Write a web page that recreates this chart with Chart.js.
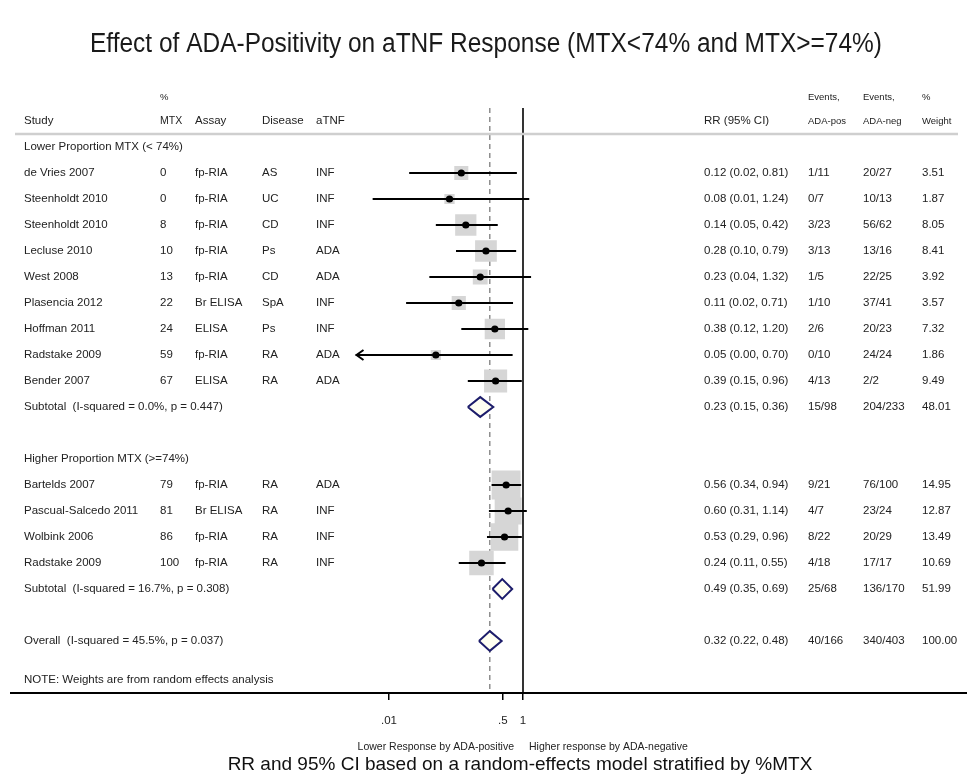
<!DOCTYPE html>
<html>
<head>
<meta charset="utf-8">
<script src="https://cdn.jsdelivr.net/npm/chart.js@4.4.1/dist/chart.umd.min.js"></script>
<style>
  html, body { margin: 0; padding: 0; background: #fff; }
  canvas { display: block; }
</style>
</head>
<body>
<canvas id="forestChart" width="967" height="776"></canvas>
<script>
// studies, in the order they are plotted
const studies = ['de Vries 2007', 'Steenholdt 2010', 'Steenholdt 2010', 'Lecluse 2010', 'West 2008', 'Plasencia 2012', 'Hoffman 2011', 'Radstake 2009', 'Bender 2007', 'Bartelds 2007', 'Pascual-Salcedo 2011', 'Wolbink 2006', 'Radstake 2009'];
const studyGroup = [0, 0, 0, 0, 0, 0, 0, 0, 0, 1, 1, 1, 1];
const mtxPct = ['0', '0', '8', '10', '13', '22', '24', '59', '67', '79', '81', '86', '100'];
const assays = ['fp-RIA', 'fp-RIA', 'fp-RIA', 'fp-RIA', 'fp-RIA', 'Br ELISA', 'ELISA', 'fp-RIA', 'ELISA', 'fp-RIA', 'Br ELISA', 'fp-RIA', 'fp-RIA'];
const diseases = ['AS', 'UC', 'CD', 'Ps', 'CD', 'SpA', 'Ps', 'RA', 'RA', 'RA', 'RA', 'RA', 'RA'];
const antiTnf = ['INF', 'INF', 'INF', 'ADA', 'ADA', 'INF', 'INF', 'ADA', 'ADA', 'ADA', 'INF', 'INF', 'INF'];
const rr = [0.12, 0.08, 0.14, 0.28, 0.23, 0.11, 0.38, 0.05, 0.39, 0.56, 0.60, 0.53, 0.24];
const ciLow = [0.02, 0.0057, 0.05, 0.10, 0.04, 0.018, 0.12, 0.00, 0.15, 0.34, 0.31, 0.29, 0.11];
const ciHigh = [0.81, 1.24, 0.42, 0.79, 1.32, 0.71, 1.20, 0.70, 0.96, 0.94, 1.14, 0.96, 0.55];
const adaPos = ['1/11', '0/7', '3/23', '3/13', '1/5', '1/10', '2/6', '0/10', '4/13', '9/21', '4/7', '8/22', '4/18'];
const adaNeg = ['20/27', '10/13', '56/62', '13/16', '22/25', '37/41', '20/23', '24/24', '2/2', '76/100', '23/24', '20/29', '17/17'];
const weights = [3.51, 1.87, 8.05, 8.41, 3.92, 3.57, 7.32, 1.86, 9.49, 14.95, 12.87, 13.49, 10.69];

// subgroups
const groupLabels = ['Lower Proportion MTX (< 74%)', 'Higher Proportion MTX (>=74%)'];
const subLabels = ['Subtotal  (I-squared = 0.0%, p = 0.447)', 'Subtotal  (I-squared = 16.7%, p = 0.308)'];
const subRR = [0.23, 0.49];
const subLow = [0.15, 0.35];
const subHigh = [0.36, 0.69];
const subPos = ['15/98', '25/68'];
const subNeg = ['204/233', '136/170'];
const subWeight = ['48.01', '51.99'];

// overall pooled estimate
const overallLabel = 'Overall  (I-squared = 45.5%, p = 0.037)';
const overallRR = 0.32;
const overallLow = 0.22;
const overallHigh = 0.48;
const overallPos = '40/166';
const overallNeg = '340/403';
const overallWeight = '100.00';

// x axis
const xTickValues = [0.01, 0.5, 1];
const xTickLabels = ['.01', '.5', '1'];

const X_MIN = Math.pow(10, -2.5);
const X_MAX = 10;
const FONT = "'Liberation Sans', Arial, sans-serif";

// work out which row each line of the table goes on
const studyRow = [];
const groupRow = [];
const subRow = [];
let k = 0;
groupLabels.forEach((g, gi) => {
    groupRow.push(k++);
    studies.forEach((s, i) => {
        if (studyGroup[i] === gi) studyRow[i] = k++;
    });
    subRow.push(k++);
    k++; // blank line between groups
});
const overallRow = k;
const noteRow = k + 1.5;

const ciText = (est, lo, hi) => `${est.toFixed(2)} (${lo.toFixed(2)}, ${hi.toFixed(2)})`;

const diamond = (est, lo, hi, row) => [
    { x: lo, y: row }, { x: est, y: row - 0.38 }, { x: hi, y: row }, { x: est, y: row + 0.38 }, { x: lo, y: row }
];

// first dataset ends up on top
const datasets = [];
datasets.push({
    data: studies.map((s, i) => ({ x: rr[i], y: studyRow[i] })),
    pointRadius: 3.6,
    pointBackgroundColor: '#000',
    pointBorderWidth: 0
});
subRR.forEach((est, i) => {
    datasets.push({
        data: diamond(est, subLow[i], subHigh[i], subRow[i]),
        showLine: true, fill: 'shape', pointRadius: 0,
        borderColor: '#1d1d6b', borderWidth: 2, backgroundColor: '#fffff2'
    });
});
datasets.push({
    data: diamond(overallRR, overallLow, overallHigh, overallRow),
    showLine: true, fill: 'shape', pointRadius: 0,
    borderColor: '#1d1d6b', borderWidth: 2, backgroundColor: '#fffff2'
});
studies.forEach((s, i) => {
    datasets.push({
        data: [
            { x: Math.max(ciLow[i], X_MIN), y: studyRow[i] },
            { x: Math.min(ciHigh[i], X_MAX), y: studyRow[i] }
        ],
        showLine: true, pointRadius: 0,
        borderColor: '#000', borderWidth: 2
    });
});
datasets.push({
    data: studies.map((s, i) => ({ x: rr[i], y: studyRow[i] })),
    pointStyle: 'rect',
    pointRadius: weights.map(w => 5.3 * Math.sqrt(w)),
    pointBackgroundColor: '#d6d6d6',
    pointBorderWidth: 0
});
// overall estimate line and line of no effect
datasets.push({
    data: [{ x: overallRR, y: -1.5 }, { x: overallRR, y: 21 }],
    showLine: true, pointRadius: 0,
    borderColor: '#555', borderWidth: 1, borderDash: [5, 4]
});
datasets.push({
    data: [{ x: 1, y: -1.5 }, { x: 1, y: 21 }],
    showLine: true, pointRadius: 0,
    borderColor: '#000', borderWidth: 1.6
});

const tablePlugin = {
    id: 'forestTable',
    afterDatasetsDraw(chart) {
        // arrow where a CI runs off the left of the axis
        const { ctx, scales: { x, y } } = chart;
        ctx.save();
        ctx.strokeStyle = '#000';
        ctx.lineWidth = 2;
        studies.forEach((s, i) => {
            if (ciLow[i] >= X_MIN) return;
            const px = x.getPixelForValue(X_MIN) + 1;
            const py = y.getPixelForValue(studyRow[i]);
            ctx.beginPath();
            ctx.moveTo(px + 7, py - 5);
            ctx.lineTo(px, py);
            ctx.lineTo(px + 7, py + 5);
            ctx.stroke();
        });
        ctx.restore();
    },
    afterDraw(chart) {
        const { ctx, scales: { x, y }, chartArea } = chart;
        const W = chart.width;
        ctx.save();

        // title, slightly condensed like the original
        ctx.fillStyle = '#1a1a1a';
        ctx.textBaseline = 'middle';
        ctx.textAlign = 'center';
        const title = 'Effect of ADA-Positivity on aTNF Response (MTX<74% and MTX>=74%)';
        ctx.font = `27px ${FONT}`;
        const tw = ctx.measureText(title).width;
        ctx.save();
        ctx.translate(486, 45);
        ctx.scale(792 / tw, 1);
        ctx.fillText(title, 0, 0);
        ctx.restore();

        // lines across the whole figure
        ctx.strokeStyle = '#cfcfcf';
        ctx.lineWidth = 2.5;
        ctx.beginPath();
        ctx.moveTo(15, y.getPixelForValue(-0.5));
        ctx.lineTo(958, y.getPixelForValue(-0.5));
        ctx.stroke();
        ctx.strokeStyle = '#000';
        ctx.lineWidth = 2;
        ctx.beginPath();
        ctx.moveTo(10, chartArea.bottom);
        ctx.lineTo(W, chartArea.bottom);
        ctx.stroke();

        const cols = { study: 24, mtx: 160, assay: 195, disease: 262, atnf: 316, ci: 704, pos: 808, neg: 863, wt: 922 };
        const small = `9.5px ${FONT}`;
        const normal = `11.5px ${FONT}`;
        const put = (txt, cx, row, font) => {
            ctx.font = font || normal;
            ctx.fillText(txt, cx, y.getPixelForValue(row));
        };
        ctx.fillStyle = '#222';
        ctx.textAlign = 'left';

        // column headers
        put('%', cols.mtx, -1.92, small);
        put('Events,', cols.pos, -1.92, small);
        put('Events,', cols.neg, -1.92, small);
        put('%', cols.wt, -1.92, small);
        put('Study', cols.study, -1);
        put('MTX', cols.mtx, -1, `10.5px ${FONT}`);
        put('Assay', cols.assay, -1);
        put('Disease', cols.disease, -1);
        put('aTNF', cols.atnf, -1);
        put('RR (95% CI)', cols.ci, -1);
        put('ADA-pos', cols.pos, -1, small);
        put('ADA-neg', cols.neg, -1, small);
        put('Weight', cols.wt, -1, small);

        groupLabels.forEach((g, gi) => {
            put(g, cols.study, groupRow[gi]);
            put(subLabels[gi], cols.study, subRow[gi]);
            put(ciText(subRR[gi], subLow[gi], subHigh[gi]), cols.ci, subRow[gi]);
            put(subPos[gi], cols.pos, subRow[gi]);
            put(subNeg[gi], cols.neg, subRow[gi]);
            put(subWeight[gi], cols.wt, subRow[gi]);
        });
        studies.forEach((s, i) => {
            const r = studyRow[i];
            put(s, cols.study, r);
            put(mtxPct[i], cols.mtx, r);
            put(assays[i], cols.assay, r);
            put(diseases[i], cols.disease, r);
            put(antiTnf[i], cols.atnf, r);
            put(ciText(rr[i], ciLow[i], ciHigh[i]), cols.ci, r);
            put(adaPos[i], cols.pos, r);
            put(adaNeg[i], cols.neg, r);
            put(weights[i].toFixed(2), cols.wt, r);
        });
        put(overallLabel, cols.study, overallRow);
        put(ciText(overallRR, overallLow, overallHigh), cols.ci, overallRow);
        put(overallPos, cols.pos, overallRow);
        put(overallNeg, cols.neg, overallRow);
        put(overallWeight, cols.wt, overallRow);
        put('NOTE: Weights are from random effects analysis', cols.study, noteRow);

        // favours labels and axis title
        const p1 = x.getPixelForValue(1);
        ctx.font = `10.5px ${FONT}`;
        ctx.textAlign = 'right';
        ctx.fillText('Lower Response by ADA-positive', p1 - 9, 747);
        ctx.textAlign = 'left';
        ctx.fillText('Higher response by ADA-negative', p1 + 6, 747);
        ctx.font = `19px ${FONT}`;
        ctx.textAlign = 'center';
        ctx.fillStyle = '#111';
        ctx.fillText('RR and 95% CI based on a random-effects model stratified by %MTX', 520, 765);
        ctx.restore();
    }
};

new Chart(document.getElementById('forestChart'), {
    type: 'scatter',
    data: { datasets },
    options: {
        responsive: false,
        animation: false,
        devicePixelRatio: 1,
        layout: { padding: { top: 95, left: 355.5, right: 377, bottom: 0 } },
        plugins: {
            legend: { display: false },
            tooltip: { enabled: false },
            title: { display: false }
        },
        scales: {
            x: {
                type: 'logarithmic',
                min: X_MIN,
                max: X_MAX,
                position: 'bottom',
                afterBuildTicks: scale => { scale.ticks = xTickValues.map(v => ({ value: v })); },
                afterFit: scale => { scale.height = 83; },
                ticks: {
                    autoSkip: false,
                    maxRotation: 0,
                    padding: 14,
                    color: '#222',
                    font: { family: FONT, size: 11.5 },
                    callback: (value, index) => xTickLabels[index]
                },
                grid: { drawOnChartArea: false, drawTicks: true, tickLength: 7, color: '#000', lineWidth: 1.5 },
                border: { display: true, color: '#000', width: 2 }
            },
            y: { type: 'linear', min: -2, max: 21, reverse: true, display: false }
        }
    },
    plugins: [tablePlugin]
});
</script>
</body>
</html>
